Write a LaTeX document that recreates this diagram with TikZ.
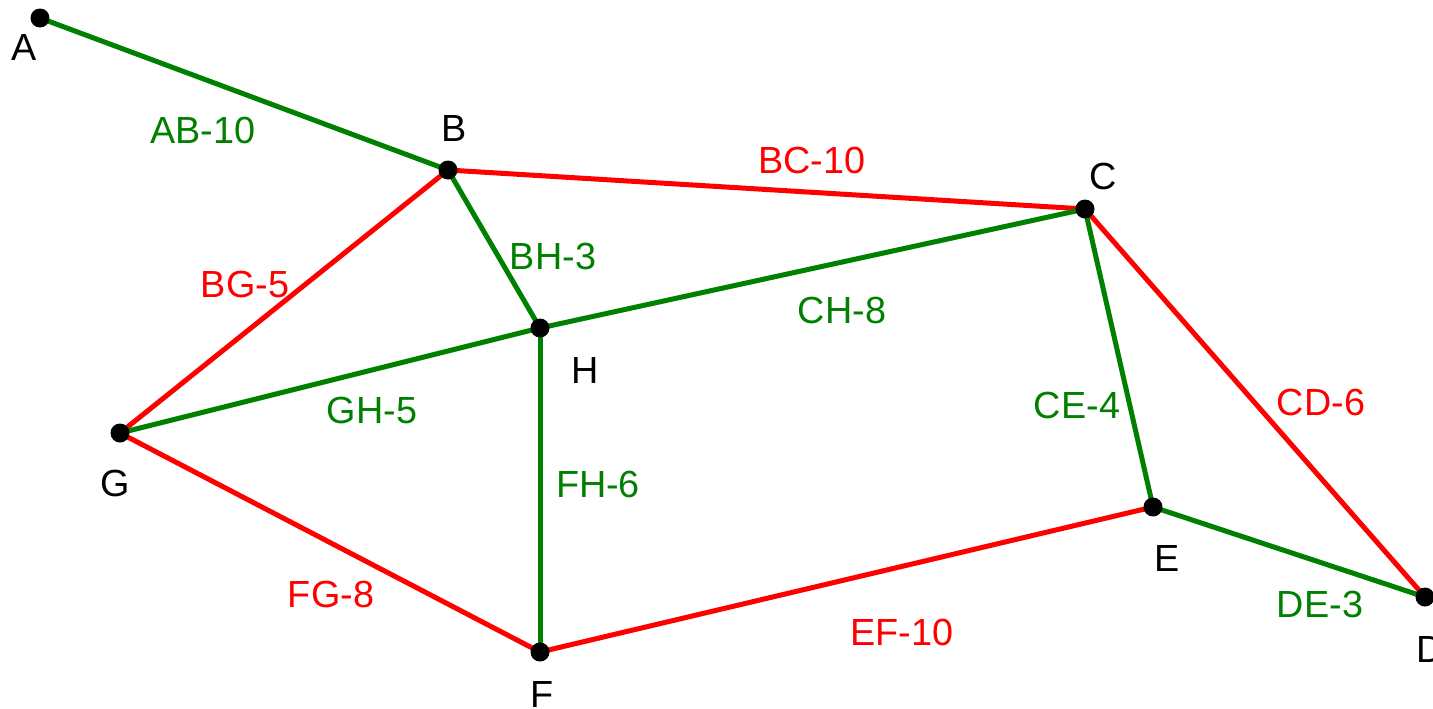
\documentclass[tikz,border=0pt]{standalone}
\usepackage{fontspec}
\setmainfont{Liberation Sans}
\usetikzlibrary{positioning}
\definecolor{treegreen}{RGB}{0,128,0}
\definecolor{restred}{RGB}{255,0,0}

\begin{document}
\begin{tikzpicture}[
    x=0.02cm, y=-0.02cm, % One unit is one pixel, y grows downwards
    tree/.style={treegreen, line width=2.85pt}, % Style for the tree edges
    rest/.style={restred, line width=2.85pt}, % Style for the other edges
    vertex/.style={circle, fill=black, inner sep=0pt, minimum size=0.38cm}, % Style for the dots
    vname/.style={font=\fontsize{21.5}{24}\selectfont, inner sep=0pt}, % Style for vertex letters
    treelabel/.style={vname, treegreen}, % Style for labels of tree edges
    restlabel/.style={vname, restred} % Style for labels of other edges
]

    % Frame of the picture
    \useasboundingbox (0, 0) rectangle (1433, 708);

    % Define key points
    \coordinate (A) at (40, 18);
    \coordinate (B) at (448, 170);
    \coordinate (C) at (1085, 209);
    \coordinate (D) at (1425, 597);
    \coordinate (E) at (1153, 507);
    \coordinate (F) at (540, 652);
    \coordinate (G) at (120, 433);
    \coordinate (H) at (540, 328);

    % Edges left out of the tree
    \draw[rest] (B) -- (C);
    \draw[rest] (B) -- (G);
    \draw[rest] (C) -- (D);
    \draw[rest] (E) -- (F);
    \draw[rest] (F) -- (G);

    % Edges of the tree
    \draw[tree] (A) -- (B);
    \draw[tree] (B) -- (H);
    \draw[tree] (C) -- (H);
    \draw[tree] (G) -- (H);
    \draw[tree] (F) -- (H);
    \draw[tree] (C) -- (E);
    \draw[tree] (D) -- (E);

    % Dots on the vertices
    \foreach \v in {A, B, C, D, E, F, G, H}
        \node[vertex] (dot\v) at (\v) {};

    % Add labels for the vertices
    \node[vname] (nameA) at (24, 47) {A};
    \node[vname] (nameB) at (454, 128) {B};
    \node[vname] (nameC) at (1103, 176) {C};
    \node[vname] (nameD) at (1430, 649) {D};
    \node[vname] (nameE) at (1167, 558) {E};
    \node[vname] (nameF) at (542, 694) {F};
    \node[vname] (nameG) at (115, 483) {G};
    \node[vname] (nameH) at (585, 370) {H};

    % Add labels for the weights
    \node[treelabel] (wAB) at (203, 130) {AB-10};
    \node[treelabel] (wBH) at (553, 256) {BH-3};
    \node[treelabel] (wCH) at (842, 310) {CH-8};
    \node[treelabel] (wGH) at (372, 410) {GH-5};
    \node[treelabel] (wFH) at (598, 484) {FH-6};
    \node[treelabel] (wCE) at (1077, 405) {CE-4};
    \node[treelabel] (wDE) at (1320, 604) {DE-3};
    \node[restlabel] (wBC) at (812, 160) {BC-10};
    \node[restlabel] (wBG) at (245, 284) {BG-5};
    \node[restlabel] (wCD) at (1321, 402) {CD-6};
    \node[restlabel] (wEF) at (902, 632) {EF-10};
    \node[restlabel] (wFG) at (331, 594) {FG-8};

\end{tikzpicture}
\end{document}
